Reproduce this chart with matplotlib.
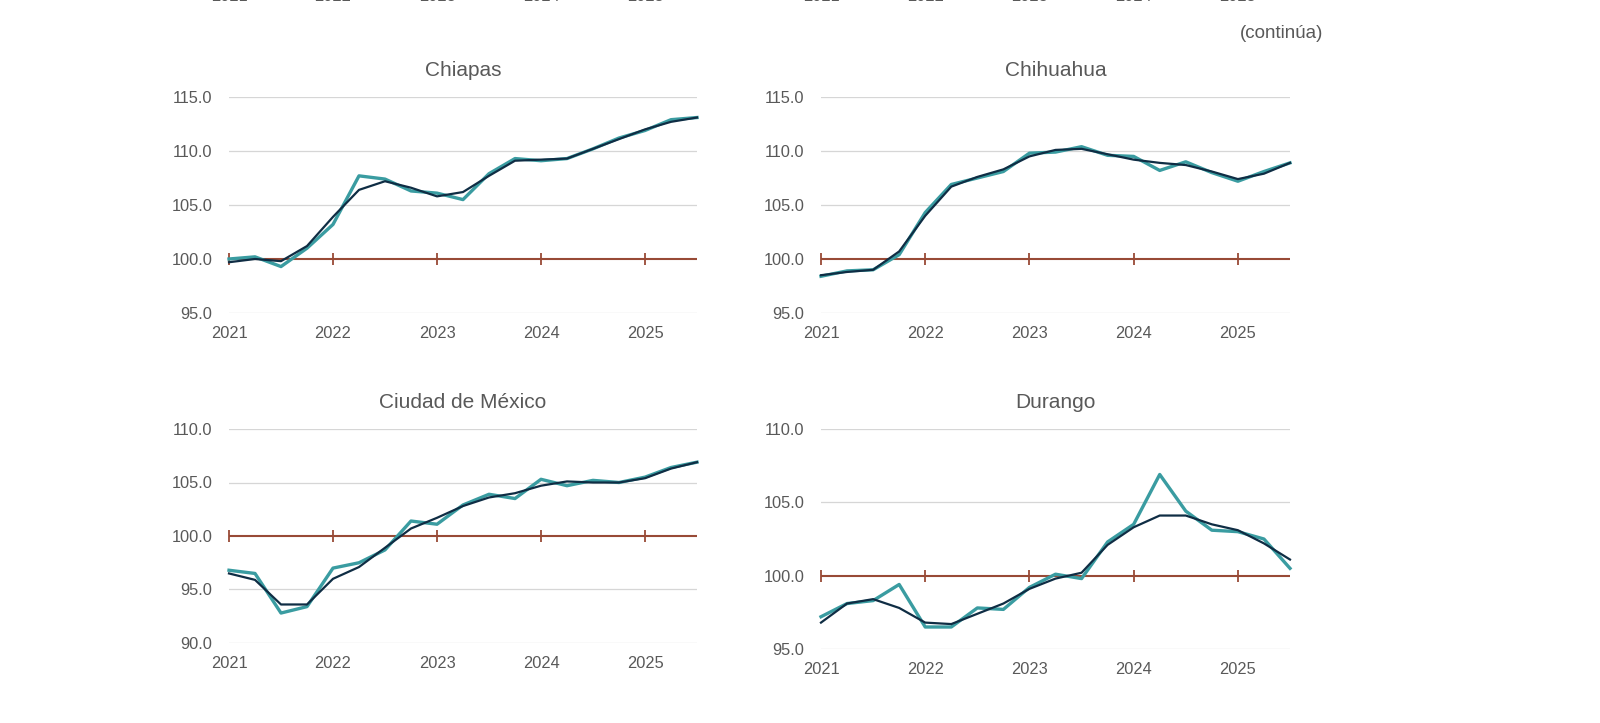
import matplotlib
matplotlib.use("Agg")
import matplotlib.pyplot as plt
import matplotlib.transforms as mtransforms

plt.rcParams['font.family'] = ['Liberation Sans', 'DejaVu Sans']

# trimestres 2021T1 .. 2025T3
quarters = [2021 + i / 4 for i in range(19)]
years = [2021, 2022, 2023, 2024, 2025]

chiapas_obs = [100.0, 100.2, 99.3, 101.0, 103.2, 107.7, 107.4, 106.3, 106.1, 105.5,
               107.9, 109.3, 109.1, 109.3, 110.2, 111.2, 111.9, 112.9, 113.1]
chiapas_tend = [99.7, 100.0, 99.8, 101.2, 103.9, 106.4, 107.2, 106.6, 105.8, 106.2,
                107.7, 109.1, 109.2, 109.3, 110.2, 111.1, 112.0, 112.7, 113.1]

chihuahua_obs = [98.4, 98.9, 99.0, 100.4, 104.3, 106.9, 107.5, 108.1, 109.8, 109.9,
                 110.4, 109.6, 109.5, 108.2, 109.0, 108.0, 107.2, 108.1, 108.9]
chihuahua_tend = [98.5, 98.8, 99.0, 100.7, 104.0, 106.7, 107.6, 108.3, 109.5, 110.1,
                  110.2, 109.7, 109.2, 108.9, 108.7, 108.1, 107.4, 107.9, 108.9]

cdmx_obs = [96.8, 96.5, 92.8, 93.4, 97.0, 97.5, 98.7, 101.4, 101.1, 102.9,
            103.9, 103.5, 105.3, 104.7, 105.2, 105.0, 105.5, 106.4, 106.9]
cdmx_tend = [96.5, 95.9, 93.6, 93.6, 96.0, 97.1, 98.9, 100.7, 101.7, 102.8,
             103.6, 104.0, 104.7, 105.1, 105.0, 105.0, 105.4, 106.3, 106.9]

durango_obs = [97.2, 98.1, 98.3, 99.4, 96.5, 96.5, 97.8, 97.7, 99.2, 100.1,
               99.8, 102.3, 103.5, 106.9, 104.4, 103.1, 103.0, 102.5, 100.5]
durango_tend = [96.8, 98.1, 98.4, 97.8, 96.8, 96.7, 97.4, 98.1, 99.1, 99.8,
                100.2, 102.1, 103.3, 104.1, 104.1, 103.5, 103.1, 102.2, 101.1]

TEAL = "#3a9ca1"
NAVY = "#0f2d44"
REF = "#984a36"
GRAY = "#595959"
GRID = "#d6d6d6"

W, H = 1600, 723


def px_box(left, right, top, bottom):
    return [left / W, 1 - bottom / H, (right - left) / W, (bottom - top) / H]


panels = [
    ("Chiapas", chiapas_obs, chiapas_tend, (95, 115), px_box(229, 697, 97, 313)),
    ("Chihuahua", chihuahua_obs, chihuahua_tend, (95, 115), px_box(821, 1290, 97, 313)),
    ("Ciudad de México", cdmx_obs, cdmx_tend, (90, 110), px_box(229, 697, 429, 643)),
    ("Durango", durango_obs, durango_tend, (95, 110), px_box(821, 1290, 429, 649)),
]

fig = plt.figure(figsize=(16, 7.23), dpi=100)
fig.patch.set_facecolor("white")

axes = []
for name, obs, tend, ylim, box in panels:
    ax = fig.add_axes(box)
    axes.append(ax)
    ax.set_xlim(2021, 2025.5)
    ax.set_ylim(*ylim)
    yt = list(range(ylim[0], ylim[1] + 1, 5))
    ax.set_yticks(yt)
    ax.set_yticklabels([f"{v:.1f}" for v in yt])
    ax.set_xticks(years)
    ax.set_xticklabels([str(y) for y in years])
    for v in yt:
        if v != 100:
            ax.axhline(v, color=GRID, lw=0.9, zorder=1)
    # linea de referencia en 100 con marcas anuales
    ax.axhline(100, color=REF, lw=1.5, zorder=2)
    ax.plot(years, [100] * len(years), ls="none", marker="|", ms=9, mew=1.3,
            color=REF, zorder=2, clip_on=False)
    ax.plot(quarters, obs, color=TEAL, lw=2.4, zorder=3, clip_on=False)
    ax.plot(quarters, tend, color=NAVY, lw=1.6, zorder=4, clip_on=False)
    for s in ax.spines.values():
        s.set_visible(False)
    ax.tick_params(axis="both", length=0, labelsize=11.8, colors=GRAY)
    ax.tick_params(axis="x", pad=9)
    ax.tick_params(axis="y", pad=12)
    ax.set_title(name, fontsize=15, color=GRAY, pad=15)

# etiquetas recortadas del panel anterior
for ax in axes[:2]:
    tr = mtransforms.blended_transform_factory(ax.transData, fig.transFigure)
    for y in years:
        ax.text(y, 1.005, str(y), transform=tr, ha="center", va="center",
                fontsize=11.8, color=GRAY, clip_on=False)

fig.text(1323 / W, 1 - 34 / H, "(continúa)", ha="right", va="center",
         fontsize=13.5, color=GRAY)

fig.savefig("out.png", dpi=100, facecolor="white")
